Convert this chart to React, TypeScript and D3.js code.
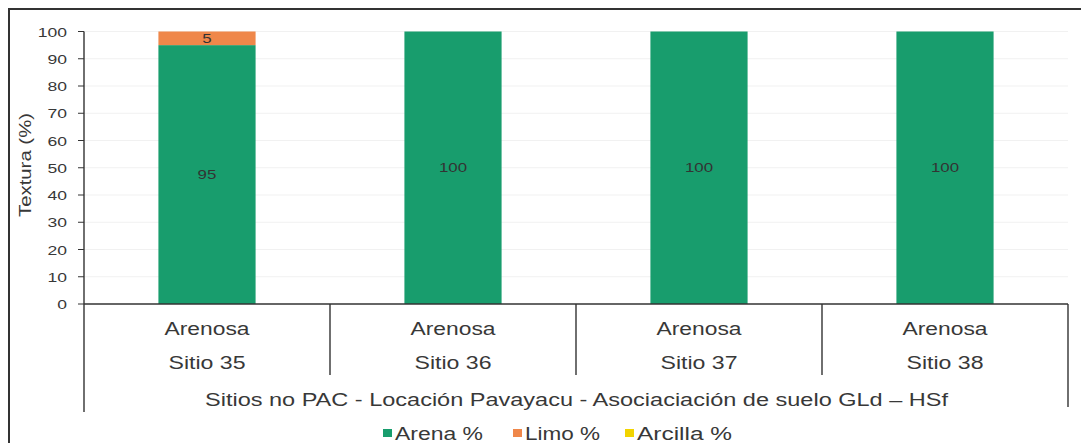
import React from "react";
import * as d3 from "d3";

const categories = ["Sitio 35", "Sitio 36", "Sitio 37", "Sitio 38"];
const textures = ["Arenosa", "Arenosa", "Arenosa", "Arenosa"];
const arena = [95, 100, 100, 100];
const limo = [5, 0, 0, 0];
const arcilla = [0, 0, 0, 0];
const seriesNames = ["Arena %", "Limo %", "Arcilla %"];
const seriesColors = ["#189d6d", "#ef874a", "#f2d400"];
const yTicks = [0, 10, 20, 30, 40, 50, 60, 70, 80, 90, 100];
const groupTitle = "Sitios no PAC - Locación Pavayacu - Asociaciación de suelo  GLd – HSf";

export default function App() {
  const W = 1081, H = 443;
  const left = 84, right = 1068, top = 31.5, bottom = 304;
  const x = d3.scaleBand().domain(categories).range([left, right]).paddingInner(0).paddingOuter(0);
  const y = d3.scaleLinear().domain([0, 100]).range([bottom, top]);
  const rows = categories.map((c, i) => ({ c, a: arena[i], l: limo[i], r: arcilla[i] }));
  const stack = d3.stack<any>().keys(["a", "l", "r"])(rows);
  const bw = x.bandwidth() * 0.395;
  const font = "'Liberation Sans', Arial, sans-serif";
  const legendX = [383, 513, 625];
  const legendW = [88, 75, 95];
  const txt = "#383838";

  return (
    <svg width={W} height={H} style={{ position: "absolute", left: 0, top: 0, background: "#fff" }} fontFamily={font}>
      <rect x={9} y={9} width={1090} height={460} fill="#fff" stroke="#333" strokeWidth={2} />
      {yTicks.slice(1).map((t) => (
        <line key={"g" + t} x1={left} x2={right} y1={y(t)} y2={y(t)} stroke="#f1f1f1" strokeWidth={1} />
      ))}
      {stack.map((s, si) =>
        s.map((d, i) => {
          const h = y(d[0]) - y(d[1]);
          if (h <= 0) return null;
          const cx = (x(categories[i]) as number) + x.bandwidth() / 2;
          const cy = (y(d[0]) + y(d[1])) / 2;
          return (
            <g key={si + "-" + i}>
              <rect x={cx - bw / 2} y={y(d[1])} width={bw} height={h} fill={seriesColors[si]} />
              <text transform={`translate(${cx},${cy + 4.5}) scale(1.35,1)`} textAnchor="middle" fontSize={12.5} fill="#333">
                {d[1] - d[0]}
              </text>
            </g>
          );
        })
      )}
      {/* y axis */}
      <line x1={left} x2={left} y1={top} y2={412} stroke="#333" strokeWidth={1.4} />
      {yTicks.map((t) => (
        <g key={t}>
          <line x1={left - 6} x2={left} y1={y(t)} y2={y(t)} stroke="#333" strokeWidth={1} />
          <text transform={`translate(${left - 17},${y(t) + 5}) scale(1.3,1)`} textAnchor="end" fontSize={13.5} fill={txt}>{t}</text>
        </g>
      ))}
      <text transform={`translate(31,165) rotate(-90)`} textAnchor="middle" fontSize={17} fill={txt} textLength={104} lengthAdjust="spacingAndGlyphs">Textura (%)</text>
      {/* x axis */}
      <line x1={left} x2={right} y1={bottom} y2={bottom} stroke="#333" strokeWidth={1.4} />
      {categories.slice(1).map((c) => (
        <line key={"s" + c} x1={x(c) as number} x2={x(c) as number} y1={bottom} y2={375} stroke="#333" strokeWidth={1.4} />
      ))}
      <line x1={right} x2={right} y1={bottom} y2={407} stroke="#333" strokeWidth={1.4} />
      {categories.map((c, i) => {
        const cx = (x(c) as number) + x.bandwidth() / 2;
        return (
          <g key={"l" + c}>
            <text x={cx} y={335} textAnchor="middle" fontSize={17.5} fill={txt} textLength={85} lengthAdjust="spacingAndGlyphs">{textures[i]}</text>
            <text x={cx} y={369} textAnchor="middle" fontSize={17.5} fill={txt} textLength={77} lengthAdjust="spacingAndGlyphs">{c}</text>
          </g>
        );
      })}
      <text x={205} y={406} fontSize={17.5} fill={txt} textLength={743} lengthAdjust="spacingAndGlyphs">{groupTitle}</text>
      {seriesNames.map((n, i) => (
        <g key={n}>
          <rect x={legendX[i]} y={429} width={9} height={8} fill={seriesColors[i]} />
          <text x={legendX[i] + 12} y={439.5} fontSize={17.5} fill={txt} textLength={legendW[i]} lengthAdjust="spacingAndGlyphs">{n}</text>
        </g>
      ))}
    </svg>
  );
}
